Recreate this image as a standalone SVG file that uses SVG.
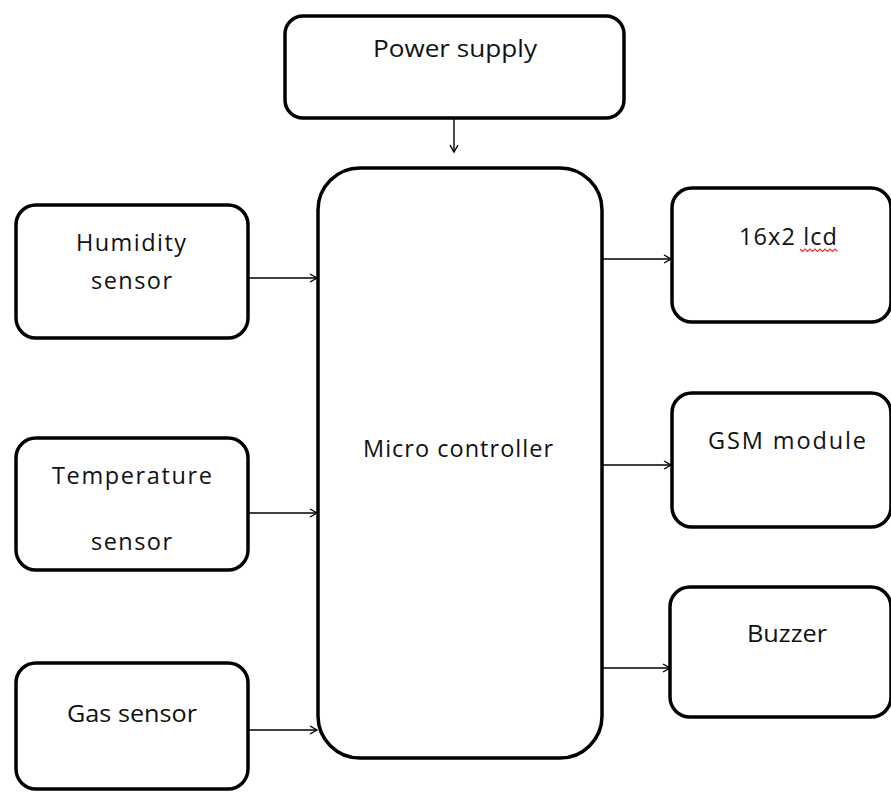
<svg xmlns="http://www.w3.org/2000/svg" width="891" height="792" viewBox="0 0 891 792">
<style>
.box{fill:#fff;stroke:#000;stroke-width:3.5}
.lbl{font-family:"Open Sans","Liberation Sans",Arial,sans-serif;font-size:23.5px;fill:#111}
.con{stroke:#000;stroke-width:1.4;fill:none}
</style>
<defs>
<marker id="arr" markerWidth="10" markerHeight="10" refX="8" refY="5" orient="auto" markerUnits="userSpaceOnUse">
<path d="M1,1 L8,5 L1,9" fill="none" stroke="#000" stroke-width="1.4"/>
</marker>
</defs>
<rect width="891" height="792" fill="#fff"/>
<g id="connectors">
<line class="con" x1="454" y1="118" x2="454" y2="152" marker-end="url(#arr)"/>
<line class="con" x1="248" y1="278" x2="317" y2="278" marker-end="url(#arr)"/>
<line class="con" x1="248" y1="513" x2="317" y2="513" marker-end="url(#arr)"/>
<line class="con" x1="248" y1="730" x2="317" y2="730" marker-end="url(#arr)"/>
<line class="con" x1="603" y1="259" x2="671" y2="259" marker-end="url(#arr)"/>
<line class="con" x1="603" y1="465" x2="671" y2="465" marker-end="url(#arr)"/>
<line class="con" x1="603" y1="668" x2="670" y2="668" marker-end="url(#arr)"/>
</g>
<g id="power">
<rect class="box" x="285" y="16" width="339" height="102" rx="18"/>
<text class="lbl" x="373" y="57" textLength="164" lengthAdjust="spacingAndGlyphs">Power supply</text>
</g>
<g id="humidity">
<rect class="box" x="16" y="205" width="232" height="133" rx="20"/>
<text class="lbl" x="76" y="251" textLength="110">Humidity</text>
<text class="lbl" x="91" y="289" textLength="81">sensor</text>
</g>
<g id="temperature">
<rect class="box" x="16" y="438" width="232" height="132" rx="20"/>
<text class="lbl" x="52" y="484" textLength="160">Temperature</text>
<text class="lbl" x="91" y="550" textLength="81">sensor</text>
</g>
<g id="gas">
<rect class="box" x="16" y="663" width="232" height="126" rx="20"/>
<text class="lbl" x="67" y="722" textLength="130" lengthAdjust="spacingAndGlyphs">Gas sensor</text>
</g>
<g id="micro">
<rect class="box" x="318" y="168" width="284" height="590" rx="42"/>
<text class="lbl" x="363" y="457" textLength="190">Micro controller</text>
</g>
<g id="lcd">
<rect class="box" x="672" y="188" width="219" height="134" rx="20"/>
<text class="lbl" x="739" y="245" textLength="98">16x2 lcd</text>
<path d="M800,249 l2.5,2.5 l2.5,-2.5 l2.5,2.5 l2.5,-2.5 l2.5,2.5 l2.5,-2.5 l2.5,2.5 l2.5,-2.5 l2.5,2.5 l2.5,-2.5 l2.5,2.5 l2.5,-2.5 l2.5,2.5 l2.5,-2.5 l2.5,2.5" fill="none" stroke="#e33" stroke-width="1.2"/>
</g>
<g id="gsm">
<rect class="box" x="672" y="393" width="219" height="134" rx="20"/>
<text class="lbl" x="708" y="449" textLength="158">GSM module</text>
</g>
<g id="buzzer">
<rect class="box" x="670" y="587" width="221" height="130" rx="20"/>
<text class="lbl" x="747" y="642" textLength="80" lengthAdjust="spacingAndGlyphs">Buzzer</text>
</g>
</svg>
